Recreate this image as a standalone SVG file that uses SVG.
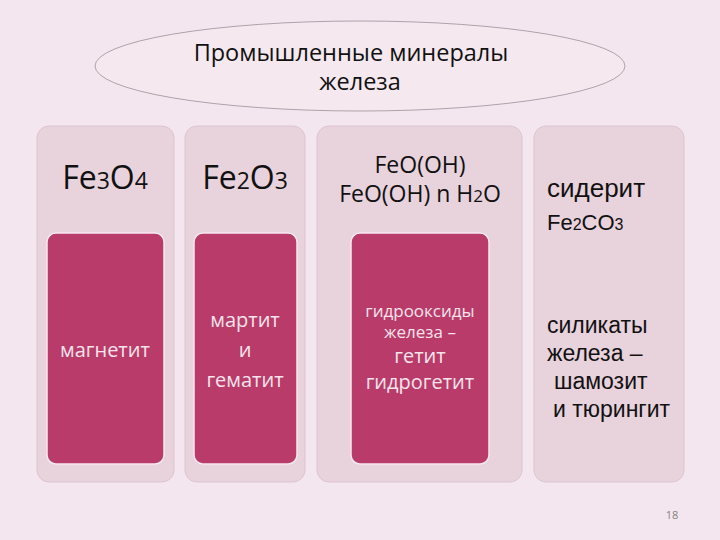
<svg xmlns="http://www.w3.org/2000/svg" width="720" height="540" viewBox="0 0 720 540">
<style>
.col{fill:#e8d2dc;stroke:#dcc4cf;stroke-width:1}
.inner{fill:#b83b69;stroke:#f6e8ee;stroke-width:1.5}
.hd{font-family:"Open Sans","Noto Sans",sans-serif;fill:#111;text-anchor:middle}
.wt{font-family:"Open Sans","Noto Sans",sans-serif;fill:#f7e4ec;text-anchor:middle}
.ar{font-family:"Liberation Sans",Arial,sans-serif;fill:#111}
</style>
<rect x="0" y="0" width="720" height="540" fill="#f4e6ee"/>
<g id="title">
<ellipse cx="360" cy="66" rx="265" ry="45" fill="#f5e9ef" stroke="#9a9098" stroke-width="0.8"/>
<text class="hd" x="351" y="61" font-size="23.5">Промышленные минералы</text>
<text class="hd" x="360" y="90" font-size="23.5">железа</text>
</g>
<g id="col1">
<rect class="col" x="37" y="126" width="137" height="356" rx="12"/>
<text class="hd" x="105" y="189" font-size="32">Fe<tspan font-size="23">3</tspan>O<tspan font-size="23">4</tspan></text>
<rect class="inner" x="47" y="233" width="117" height="231" rx="9"/>
<text class="wt" x="105" y="357" font-size="20">магнетит</text>
</g>
<g id="col2">
<rect class="col" x="185" y="126" width="120" height="356" rx="12"/>
<text class="hd" x="245" y="189" font-size="32">Fe<tspan font-size="23">2</tspan>O<tspan font-size="23">3</tspan></text>
<rect class="inner" x="194" y="233" width="103" height="231" rx="9"/>
<text class="wt" x="245" y="327" font-size="20">мартит</text>
<text class="wt" x="245" y="357" font-size="20">и</text>
<text class="wt" x="245" y="387" font-size="20">гематит</text>
</g>
<g id="col3">
<rect class="col" x="317" y="126" width="205" height="356" rx="12"/>
<text class="hd" x="420" y="173" font-size="23">FeO(OH)</text>
<text class="hd" x="420" y="202" font-size="23">FeO(OH) n H<tspan font-size="17">2</tspan>O</text>
<rect class="inner" x="351" y="233" width="138" height="231" rx="9"/>
<text class="wt" x="420" y="317" font-size="17">гидрооксиды</text>
<text class="wt" x="420" y="338" font-size="17">железа –</text>
<text class="wt" x="420" y="363" font-size="20">гетит</text>
<text class="wt" x="420" y="389" font-size="20">гидрогетит</text>
</g>
<g id="col4">
<rect class="col" x="534" y="126" width="150" height="356" rx="12"/>
<text class="ar" x="547" y="197" font-size="26">сидерит</text>
<text class="ar" x="547" y="230" font-size="22">Fe<tspan font-size="16">2</tspan>CO<tspan font-size="16">3</tspan></text>
<text class="ar" x="547" y="333" font-size="23">силикаты</text>
<text class="ar" x="547" y="361" font-size="23">железа –</text>
<text class="ar" x="554" y="389" font-size="23">шамозит</text>
<text class="ar" x="553" y="417" font-size="23">и тюрингит</text>
</g>
<g id="connectors"></g>
<text x="672" y="519" font-family="Open Sans,sans-serif" font-size="11" fill="#8a8088" text-anchor="middle">18</text>
</svg>
